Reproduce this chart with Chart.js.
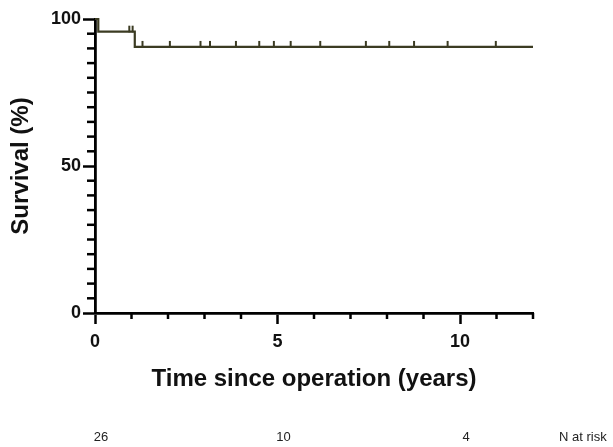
<!DOCTYPE html>
<html lang="en">
<head>
    <title>Survival</title>
    <meta charset="utf-8">
    <script src="https://cdn.jsdelivr.net/npm/chart.js@4.4.0/dist/chart.umd.min.js"></script>
    <style>
        body { margin: 0; background: #fff; }
    </style>
</head>
<body>

<canvas id="km-chart" width="613" height="447"></canvas>

<script>
// Kaplan-Meier steps (years, %)
var survTimes = [0, 0.09, 1.09, 12];
var survValues = [100, 95.7, 90.5, 90.5];

// censored patients
var censorTimes = [0.94, 1.03, 1.30, 2.05, 2.89, 3.15, 3.86, 4.50, 4.90, 5.36, 6.17, 7.42, 8.06, 8.74, 9.66, 10.98];
var censorValues = [95.7, 95.7, 90.5, 90.5, 90.5, 90.5, 90.5, 90.5, 90.5, 90.5, 90.5, 90.5, 90.5, 90.5, 90.5, 90.5];

// number at risk row
var riskTimes = [0, 5, 10];
var riskCounts = [26, 10, 4];

var lineColor = '#3b3b22';

// censor tick: small vertical stroke sitting on top of the line
var censorMark = document.createElement('canvas');
censorMark.width = 4;
censorMark.height = 14;
var cm = censorMark.getContext('2d');
cm.strokeStyle = lineColor;
cm.lineWidth = 2;
cm.beginPath();
cm.moveTo(2, 1);
cm.lineTo(2, 7.5);
cm.stroke();

var survData = survTimes.map(function (t, i) { return {x: t, y: survValues[i]}; });
var censorData = censorTimes.map(function (t, i) { return {x: t, y: censorValues[i]}; });

var minorTicks = {
    id: 'minorTicks',
    afterDraw: function (chart) {
        var ctx = chart.ctx;
        var xs = chart.scales.x, ys = chart.scales.y;
        var left = chart.chartArea.left, bottom = chart.chartArea.bottom;
        ctx.save();
        ctx.strokeStyle = '#000';
        ctx.lineWidth = 2.5;
        for (var v = 5; v < 100; v += 5) {
            if (v === 50) continue;
            var py = ys.getPixelForValue(v);
            ctx.beginPath();
            ctx.moveTo(left - 8, py);
            ctx.lineTo(left, py);
            ctx.stroke();
        }
        for (var t = 1; t <= 12; t++) {
            if (t === 5 || t === 10) continue;
            var px = xs.getPixelForValue(t);
            ctx.beginPath();
            ctx.moveTo(px, bottom);
            ctx.lineTo(px, bottom + 6);
            ctx.stroke();
        }
        // N at risk
        ctx.fillStyle = '#222';
        ctx.font = '13px "Liberation Sans", Arial, sans-serif';
        ctx.textBaseline = 'middle';
        ctx.textAlign = 'center';
        for (var i = 0; i < riskTimes.length; i++) {
            ctx.fillText(String(riskCounts[i]), xs.getPixelForValue(riskTimes[i]) + 6, 437);
        }
        ctx.textAlign = 'left';
        ctx.fillText('N at risk', 559, 437);
        ctx.restore();
    }
};

new Chart(document.getElementById('km-chart'), {
    type: 'line',
    data: {
        datasets: [{
            data: survData,
            stepped: 'before',
            borderColor: lineColor,
            borderWidth: 2.2,
            pointRadius: 0,
            fill: false,
            clip: false
        }, {
            data: censorData,
            showLine: false,
            pointStyle: censorMark,
            pointRadius: 7,
            clip: false
        }]
    },
    options: {
        responsive: false,
        animation: false,
        events: [],
        layout: {padding: {left: 0, top: 19, right: 80, bottom: 53.6}},
        plugins: {legend: {display: false}, tooltip: {enabled: false}},
        scales: {
            x: {
                type: 'linear',
                min: 0,
                max: 12,
                afterBuildTicks: function (scale) {
                    scale.ticks = scale.ticks.filter(function (t) { return t.value % 5 === 0; });
                },
                afterFit: function (scale) { scale.height = 80.4; },
                ticks: {
                    stepSize: 5,
                    padding: 7,
                    color: '#111',
                    font: {family: '"Liberation Sans", Arial', size: 18, weight: 'bold'}
                },
                grid: {drawOnChartArea: false, tickLength: 11, tickColor: '#000', tickWidth: 2.5},
                border: {color: '#000', width: 2.8},
                title: {
                    display: true,
                    text: 'Time since operation (years)',
                    color: '#111',
                    padding: {top: 0, bottom: 0},
                    font: {family: '"Liberation Sans", Arial', size: 24, weight: 'bold'}
                }
            },
            y: {
                min: 0,
                max: 100,
                afterFit: function (scale) { scale.width = 95; },
                ticks: {
                    stepSize: 50,
                    padding: 2,
                    color: '#111',
                    font: {family: '"Liberation Sans", Arial', size: 18, weight: 'bold'}
                },
                grid: {drawOnChartArea: false, tickLength: 12, tickColor: '#000', tickWidth: 2.5},
                border: {color: '#000', width: 2.8},
                title: {
                    display: true,
                    text: 'Survival (%)',
                    color: '#111',
                    padding: {top: 7, bottom: 0},
                    font: {family: '"Liberation Sans", Arial', size: 24, weight: 'bold'}
                }
            }
        }
    },
    plugins: [minorTicks]
});
</script>
</body>
</html>
